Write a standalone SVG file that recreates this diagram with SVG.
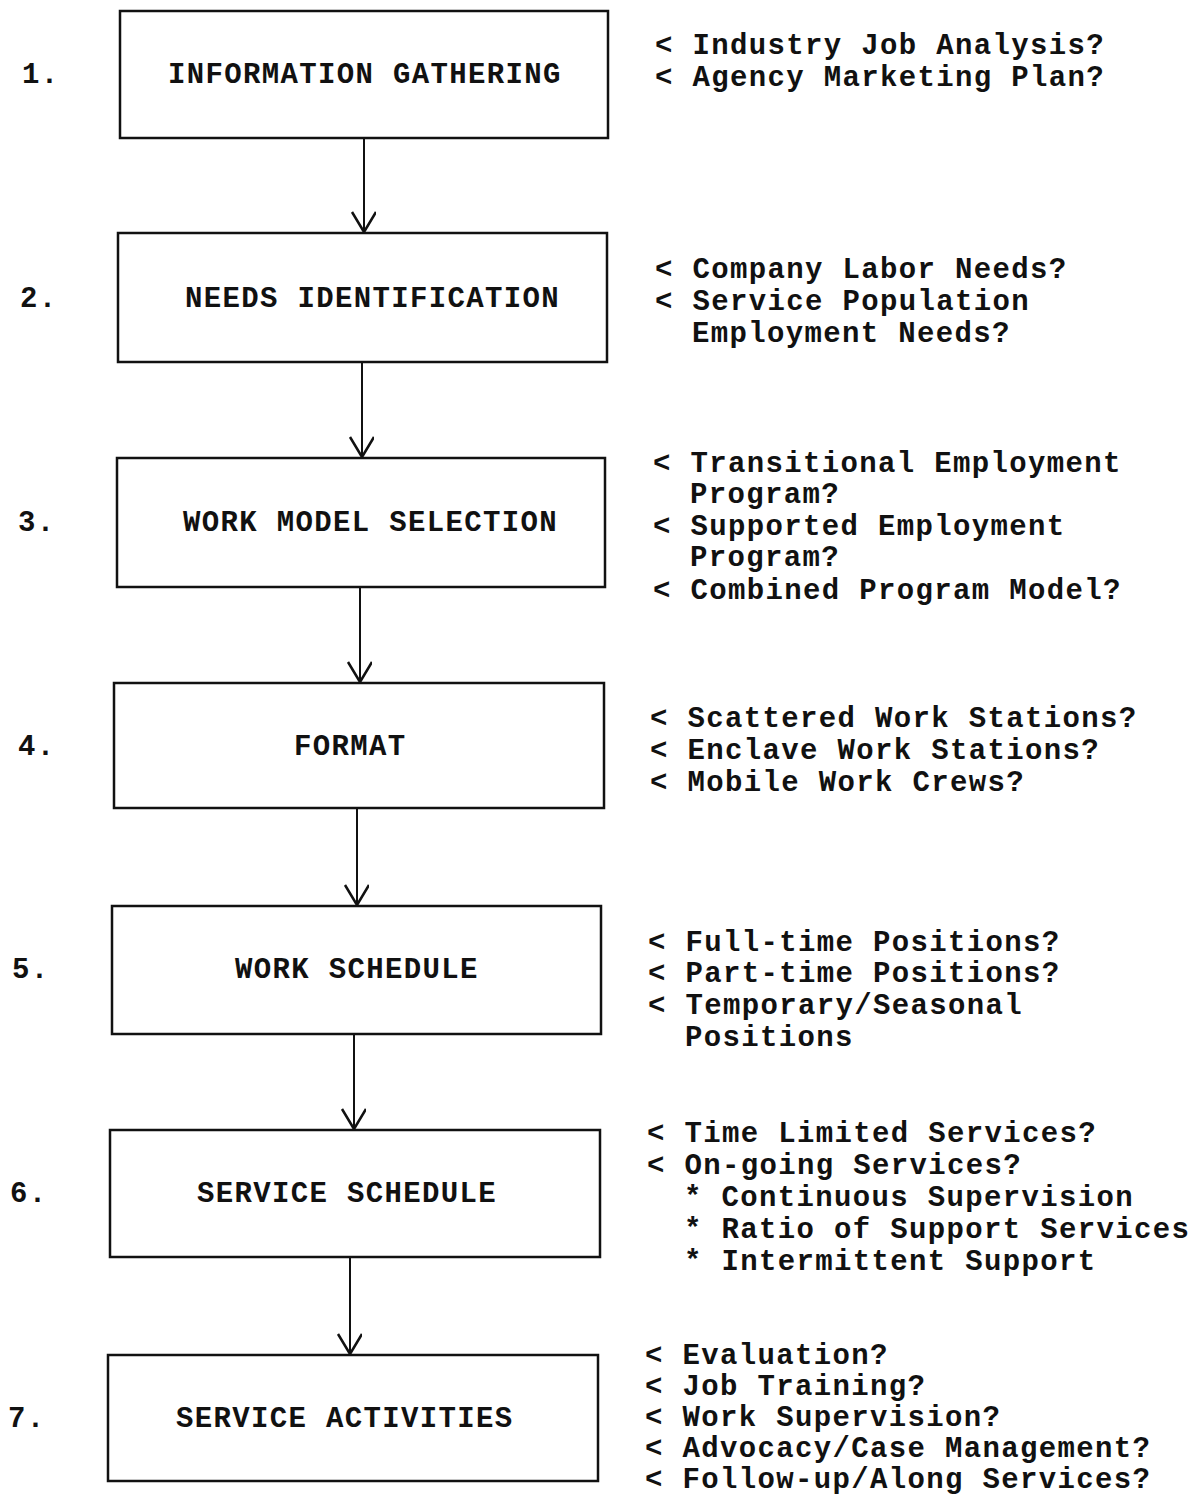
<svg xmlns="http://www.w3.org/2000/svg" width="1200" height="1498" viewBox="0 0 1200 1498">
<style>
text{font-family:"Liberation Mono","Courier New",monospace;font-size:29px;letter-spacing:1.35px;fill:#111;font-weight:bold;white-space:pre}
.box{fill:#fff;stroke:#111;stroke-width:2.5}
.conn{stroke:#111;stroke-width:2;fill:none}
</style>
<defs>
<marker id="v" markerWidth="30" markerHeight="30" refX="22" refY="12" orient="auto" markerUnits="userSpaceOnUse">
<path d="M2,0 L22,12 L2,24" fill="none" stroke="#111" stroke-width="2.5"/>
</marker>
</defs>
<rect width="1200" height="1498" fill="#fff"/>
<g id="connectors">
<line class="conn" x1="364" y1="139" x2="364" y2="232" marker-end="url(#v)"/>
<line class="conn" x1="362" y1="363" x2="362" y2="457" marker-end="url(#v)"/>
<line class="conn" x1="360" y1="588" x2="360" y2="682" marker-end="url(#v)"/>
<line class="conn" x1="357" y1="809" x2="357" y2="905" marker-end="url(#v)"/>
<line class="conn" x1="354" y1="1035" x2="354" y2="1129" marker-end="url(#v)"/>
<line class="conn" x1="350" y1="1258" x2="350" y2="1354" marker-end="url(#v)"/>
</g>
<g id="node1">
<text x="22" y="83">1.</text>
<rect class="box" x="120" y="11" width="488" height="127"/>
<text x="168" y="83">INFORMATION GATHERING</text>
<text x="655" y="54">&lt; Industry Job Analysis?</text>
<text x="655" y="86">&lt; Agency Marketing Plan?</text>
</g>
<g id="node2">
<text x="20" y="307">2.</text>
<rect class="box" x="118" y="233" width="489" height="129"/>
<text x="185" y="307">NEEDS IDENTIFICATION</text>
<text x="655" y="278">&lt; Company Labor Needs?</text>
<text x="655" y="310">&lt; Service Population</text>
<text x="692" y="342">Employment Needs?</text>
</g>
<g id="node3">
<text x="18" y="531">3.</text>
<rect class="box" x="117" y="458" width="488" height="129"/>
<text x="183" y="531">WORK MODEL SELECTION</text>
<text x="653" y="472">&lt; Transitional Employment</text>
<text x="690" y="503">Program?</text>
<text x="653" y="535">&lt; Supported Employment</text>
<text x="690" y="566">Program?</text>
<text x="653" y="599">&lt; Combined Program Model?</text>
</g>
<g id="node4">
<text x="18" y="755">4.</text>
<rect class="box" x="114" y="683" width="490" height="125"/>
<text x="294" y="755">FORMAT</text>
<text x="650" y="727">&lt; Scattered Work Stations?</text>
<text x="650" y="759">&lt; Enclave Work Stations?</text>
<text x="650" y="791">&lt; Mobile Work Crews?</text>
</g>
<g id="node5">
<text x="12" y="978">5.</text>
<rect class="box" x="112" y="906" width="489" height="128"/>
<text x="235" y="978">WORK SCHEDULE</text>
<text x="648" y="951">&lt; Full-time Positions?</text>
<text x="648" y="982">&lt; Part-time Positions?</text>
<text x="648" y="1014">&lt; Temporary/Seasonal</text>
<text x="685" y="1046">Positions</text>
</g>
<g id="node6">
<text x="10" y="1202">6.</text>
<rect class="box" x="110" y="1130" width="490" height="127"/>
<text x="197" y="1202">SERVICE SCHEDULE</text>
<text x="647" y="1142">&lt; Time Limited Services?</text>
<text x="647" y="1174">&lt; On-going Services?</text>
<text x="684" y="1206">* Continuous Supervision</text>
<text x="684" y="1238">* Ratio of Support Services</text>
<text x="684" y="1270">* Intermittent Support</text>
</g>
<g id="node7">
<text x="8" y="1427">7.</text>
<rect class="box" x="108" y="1355" width="490" height="126"/>
<text x="176" y="1427">SERVICE ACTIVITIES</text>
<text x="645" y="1364">&lt; Evaluation?</text>
<text x="645" y="1395">&lt; Job Training?</text>
<text x="645" y="1426">&lt; Work Supervision?</text>
<text x="645" y="1457">&lt; Advocacy/Case Management?</text>
<text x="645" y="1488">&lt; Follow-up/Along Services?</text>
</g>
</svg>
